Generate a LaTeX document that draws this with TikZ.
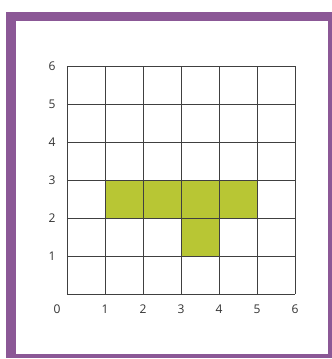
\documentclass[tikz,border=0pt]{standalone}
\usepackage{fontspec}
\setsansfont{Open Sans}
\usetikzlibrary{calc}
\definecolor{framepurple}{RGB}{139,88,150}
\definecolor{shapegreen}{RGB}{184,198,52}
\newcommand{\gridsize}{6}

\begin{document}
\begin{tikzpicture}[
    gridline/.style={black!75,line width=0.6pt},
    ticklabel/.style={font=\sffamily\fontsize{9}{10}\selectfont,text=black!80,inner sep=0pt}]
  \useasboundingbox (-1.763,-1.711) rectangle (6.974,7.737);
  % frame
  \fill[framepurple] (-1.605,-1.684) rectangle (6.974,7.421);
  \fill[white] (-1.342,-1.579) rectangle (6.868,7.184);

  % shaded figure
  \fill[shapegreen] (1,2) rectangle (5,3);
  \fill[shapegreen] (3,1) rectangle (4,2);

  \foreach \i in {0,...,\gridsize} {
    \draw[gridline] (\i,0) -- (\i,\gridsize);
    \draw[gridline] (0,\i) -- (\gridsize,\i);
  }

  \node[ticklabel] (x0) at (-0.26,-0.39) {0};
  \foreach \i in {1,...,\gridsize} {
    \node[ticklabel] (x\i) at (\i,-0.39) {\i};
    \node[ticklabel] (y\i) at (-0.39,\i) {\i};
  }
\end{tikzpicture}
\end{document}
